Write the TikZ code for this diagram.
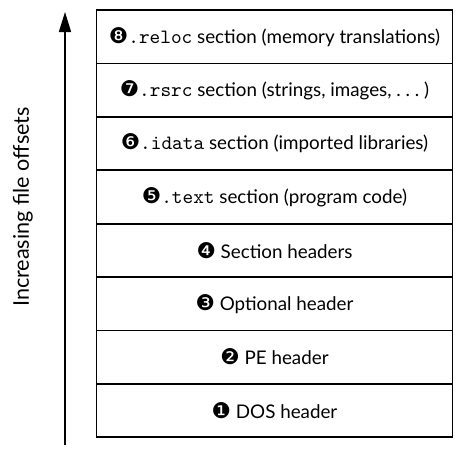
\documentclass[tikz,border=0pt]{standalone}
\usepackage{fontspec}
\setmainfont{Lato}
\setmonofont[Scale=1.08]{Latin Modern Mono}
\newfontfamily\dingfont[Scale=1.15]{DejaVu Sans}
\usepackage{tikz}
\usetikzlibrary{arrows.meta, positioning}

\newcommand{\bullnum}[1]{{\dingfont #1}}

\begin{document}
\begin{tikzpicture}[
    x=1pt, y=1pt,
    region/.style={
        rectangle,
        draw=black,
        line width=0.9pt,
        minimum width=178pt,
        minimum height=26.7pt,
        outer sep=0pt,
        inner sep=2pt,
        align=center,
        font=\fontsize{9.4}{11}\selectfont
    },
    offset_arrow/.style={
        -{Triangle[length=10pt, width=6pt]},
        line width=0.8pt,
        draw=black
    },
    axis_label/.style={
        rotate=90,
        font=\fontsize{10.8}{12}\selectfont
    }
]

% Fix the page to the reference proportions
\useasboundingbox (0,0) rectangle (235.5,-227.5);

% Top region: relocations
\node[region] (reloc) at (137.25,-18.35) {\bullnum{❽}\texttt{.reloc} section (memory translations)};

% Lower regions, stacked below one another
\node[region, below=0pt of reloc] (rsrc) {\bullnum{❼}\texttt{.rsrc} section (strings, images, .~.~.~)};
\node[region, below=0pt of rsrc] (idata) {\bullnum{❻}\texttt{.idata} section (imported libraries)};
\node[region, below=0pt of idata] (text) {\bullnum{❺}\texttt{.text} section (program code)};
\node[region, below=0pt of text] (sechdr) {\bullnum{❹} Section headers};
\node[region, below=0pt of sechdr] (opthdr) {\bullnum{❸} Optional header};
\node[region, below=0pt of opthdr] (pehdr) {\bullnum{❷} PE header};
\node[region, below=0pt of pehdr] (doshdr) {\bullnum{❶} DOS header};

% Offset direction
\coordinate (offlow) at (32.5,-222.5);
\coordinate (offhigh) at (32.5,-6);
\draw[offset_arrow] (offlow) -- (offhigh);
\node[axis_label] (offlabel) at (11.5,-103.5) {Increasing file offsets};

\end{tikzpicture}
\end{document}
